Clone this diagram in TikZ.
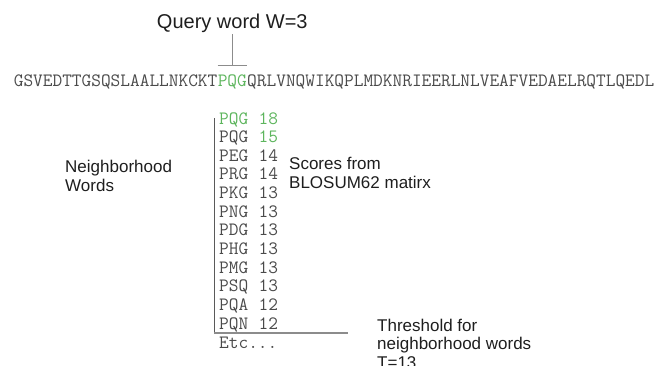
\documentclass[tikz,border=0pt]{standalone}
\usepackage{fontspec}
\usepackage{tikz}
\newfontfamily\arialfont{Liberation Sans}
\definecolor{seqgray}{HTML}{4A4A4A}
\definecolor{hitgreen}{HTML}{5DB55D}
\definecolor{linegray}{HTML}{8C8C8C}
\definecolor{axisgray}{HTML}{5A5A5A}
\definecolor{labelblack}{HTML}{1E1E1E}
\newcommand{\seqfont}{\fontsize{18.82}{20}\selectfont\ttfamily}
\newcommand{\labfont}{\fontsize{17}{18.3}\selectfont\arialfont}

\begin{document}
\begin{tikzpicture}[x=1pt,y=-1pt,
  seq/.style={anchor=base, inner sep=0pt, font=\seqfont, text=seqgray},
  lab/.style={anchor=base west, inner sep=0pt, align=left, font=\labfont, text=labelblack},
  tline/.style={draw=linegray, line width=1.3pt},
  axline/.style={draw=axisgray, line width=1pt}]
\useasboundingbox (0,0) rectangle (664,365);
\node[anchor=base, inner sep=0pt, font=\fontsize{20}{24}\selectfont\arialfont, text=labelblack] (query) at (232.3,28) {Query word W=3};
\node[seq, text=hitgreen, inner ysep=8.5pt] (pqg) at (232.3,86) {PQG};
\node[seq, anchor=base east] (seqa) at (pqg.base west) {GSVEDTTGSQSLAALLNKCKT};
\node[seq, anchor=base west] (seqb) at (pqg.base east) {QRLVNQWIKQPLMDKNRIEERLNLVEAFVEDAELRQTLQEDL};
\draw[tline, shorten <=2pt] (query.south) -- (pqg.north);
\draw[tline] (pqg.north west) -- (pqg.north east);
\foreach \w/\s/\cw/\cs [count=\i] in {PQG/18/hitgreen/hitgreen, PQG/15/seqgray/hitgreen,
    PEG/14/seqgray/seqgray, PRG/14/seqgray/seqgray, PKG/13/seqgray/seqgray, PNG/13/seqgray/seqgray,
    PDG/13/seqgray/seqgray, PHG/13/seqgray/seqgray, PMG/13/seqgray/seqgray, PSQ/13/seqgray/seqgray,
    PQA/12/seqgray/seqgray, PQN/12/seqgray/seqgray}{
  \node[seq, anchor=base west, text=\cw] (word\i) at (219,{124+18.65*(\i-1)}) {\w};
  \node[seq, anchor=base west, text=\cs] (score\i) at (258.5,{124+18.65*(\i-1)}) {\s};
}
\node[seq, anchor=base west] (etc) at (219,348) {Etc...};
\coordinate (axtop) at (214,118);
\coordinate (axcorner) at (214,333);
\coordinate (axend) at (348,333);
\draw[axline] (axtop) -- (axcorner);
\draw[tline] (axcorner) -- (axend);
\node[lab] (neigh) at (65,191) {Neighborhood\\Words};
\node[lab] (scores) at (289,188) {Scores from\\BLOSUM62 matirx};
\node[lab] (thresh) at (377,368) {Threshold for\\neighborhood words\\T=13};
\end{tikzpicture}
\end{document}
